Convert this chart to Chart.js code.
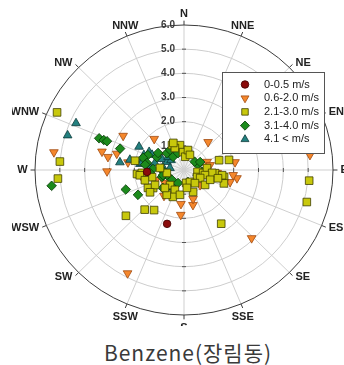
<!DOCTYPE html>
<html>
<head>
<meta charset="utf-8">
<script src="https://cdn.jsdelivr.net/npm/chart.js@4/dist/chart.umd.min.js"></script>
<style>
  html, body { margin: 0; padding: 0; background: #fff; }
  #wrap { position: relative; width: 344px; height: 365px; overflow: hidden; }
  #c { position: absolute; left: 0; top: 0; }
  #caption {
    position: absolute; left: 0; top: 337px; width: 376px; text-align: center;
    font-family: "Noto Sans CJK KR", "Noto Sans", sans-serif; font-size: 21px;
    letter-spacing: 1px; color: #3a3a3a;
  }
</style>
</head>
<body>
<div id="wrap">
  <canvas id="c" width="344" height="326"></canvas>
  <div id="caption">Benzene(장림동)</div>
</div>
<script>
// Benzene concentration by wind direction (degrees from north) and wind-speed class
const directionLabels = ['N','NNE','NE','ENE','E','ESE','SE','SSE','S','SSW','SW','WSW','W','WNW','NW','NNW'];
const radialTicks = [1, 2, 3, 4, 5, 6];
const rMax = 6;

const speedClasses = ['0-0.5 m/s', '0.6-2.0 m/s', '2.1-3.0 m/s', '3.1-4.0 m/s', '4.1 < m/s'];

const calmDir  = [197, 267];
const calmConc = [2.33, 1.49];

const lightDir  = [300, 317, 40, 83, 283, 280, 284, 278, 278, 269, 257, 184, 185, 166, 163, 136, 208, 99, 105, 95, 70, 83, 81, 79, 96, 217, 303, 134, 236, 250];
const lightConc = [2.83, 1.76, 1.51, 5.11, 3.39, 3.11, 2.79, 2.28, 5.29, 3.10, 1.69, 1.86, 1.41, 1.49, 1.25, 3.92, 4.84, 2.16, 1.92, 1.34, 0.99, 0.94, 2.08, 1.07, 1.99, 1.34, 1.15, 0.90, 0.95, 1.20];

const gentleDir  = [295, 274, 266, 231, 224, 216, 146, 105, 95, 74, 77, 100, 109, 239, 243, 265, 281, 158, 335, 351, 338, 357, 5, 266, 257, 260, 339, 11, 21, 98, 119, 99, 96, 98, 242, 236, 222, 204, 202, 189, 214, 171, 154, 85, 96, 104, 117, 141, 126, 111, 171, 275, 263, 255, 226, 104];
const gentleConc = [5.64, 5.01, 5.09, 3.01, 2.28, 2.05, 2.68, 5.12, 5.06, 1.47, 1.86, 1.64, 1.70, 1.45, 1.63, 1.90, 2.01, 0.98, 1.14, 1.04, 0.98, 0.74, 0.55, 1.70, 1.32, 0.70, 1.20, 0.84, 0.67, 0.55, 0.60, 0.78, 1.26, 1.55, 1.32, 1.65, 0.84, 0.90, 1.20, 1.04, 1.24, 0.54, 0.55, 0.93, 1.14, 0.87, 0.73, 0.70, 1.05, 1.13, 0.75, 0.97, 1.79, 1.63, 1.07, 1.41];

const moderateDir  = [291, 291, 291, 289, 263, 251, 241, 293, 287, 296, 281, 272, 270, 321, 341, 315, 265, 252, 326, 69, 96, 253, 230, 204, 223, 211, 162, 229, 51, 63, 304, 278, 256];
const moderateConc = [3.66, 3.46, 3.32, 2.72, 5.37, 2.48, 2.12, 1.58, 1.72, 1.22, 1.52, 1.25, 0.89, 0.70, 0.74, 0.98, 1.38, 0.93, 1.00, 0.60, 0.73, 0.72, 0.63, 0.59, 0.96, 0.86, 0.52, 1.13, 0.55, 0.73, 1.26, 1.58, 0.87];

const strongDir  = [294, 287, 277, 298, 278, 298, 291, 284, 297, 296, 308, 278, 296, 273, 278, 280, 281, 310, 103];
const strongConc = [4.76, 4.90, 2.60, 2.05, 1.79, 1.59, 1.73, 1.21, 1.00, 0.76, 0.66, 0.86, 1.43, 1.37, 0.57, 1.72, 2.22, 0.84, 0.54];

// polar (direction, concentration) -> cartesian data values
function toXY(dirs, concs) {
  return dirs.map((d, i) => {
    const a = d * Math.PI / 180;
    return { x: concs[i] * Math.sin(a), y: concs[i] * Math.cos(a) };
  });
}

const markerStyles = [
  { pointStyle: 'circle',   rotation: 0,   radius: 3.8, bg: '#8a0b0b', border: '#3d0000' },
  { pointStyle: 'triangle', rotation: 180, radius: 5.0, bg: '#f5872c', border: '#a04a10' },
  { pointStyle: 'rect',     rotation: 0,   radius: 5.4, bg: '#c8c80c', border: '#3f3f00' },
  { pointStyle: 'rectRot',  rotation: 0,   radius: 4.8, bg: '#1c8a1c', border: '#083808' },
  { pointStyle: 'triangle', rotation: 0,   radius: 5.0, bg: '#23807f', border: '#0b3a3a' }
];
const seriesData = [
  toXY(calmDir, calmConc),
  toXY(lightDir, lightConc),
  toXY(gentleDir, gentleConc),
  toXY(moderateDir, moderateConc),
  toXY(strongDir, strongConc)
];
// stacking order (lower = drawn on top)
const drawOrder = [0, 4, 1, 2, 3];

const datasets = seriesData.map((data, i) => ({
  label: speedClasses[i],
  data,
  order: drawOrder[i],
  pointStyle: markerStyles[i].pointStyle,
  rotation: markerStyles[i].rotation,
  pointRadius: markerStyles[i].radius,
  backgroundColor: markerStyles[i].bg,
  borderColor: markerStyles[i].border,
  borderWidth: 0.8,
  clip: false
}));

const polarGrid = {
  id: 'polarGrid',
  beforeDatasetsDraw(chart) {
    const { ctx, scales: { x, y } } = chart;
    const cx = x.getPixelForValue(0), cy = y.getPixelForValue(0);
    const pt = (r, deg) => {
      const a = deg * Math.PI / 180;
      return [x.getPixelForValue(r * Math.sin(a)), y.getPixelForValue(r * Math.cos(a))];
    };
    ctx.save();
    // fine spokes near the centre
    ctx.strokeStyle = '#d6d6d6';
    ctx.lineWidth = 0.6;
    for (let d = 0; d < 360; d += 10) {
      const [ex, ey] = pt(0.5, d);
      ctx.beginPath(); ctx.moveTo(cx, cy); ctx.lineTo(ex, ey); ctx.stroke();
    }
    // spokes for the 16 compass points
    ctx.strokeStyle = '#cfcfcf';
    ctx.lineWidth = 1;
    directionLabels.forEach((_, i) => {
      const [ex, ey] = pt(rMax, i * 22.5);
      ctx.beginPath(); ctx.moveTo(cx, cy); ctx.lineTo(ex, ey); ctx.stroke();
    });
    // rings
    radialTicks.forEach(r => {
      ctx.beginPath();
      ctx.ellipse(cx, cy, x.getPixelForValue(r) - cx, cy - y.getPixelForValue(r), 0, 0, Math.PI * 2);
      ctx.strokeStyle = r === rMax ? '#3c3c3c' : '#cdcdcd';
      ctx.lineWidth = 1;
      ctx.stroke();
    });
    // outer tick marks
    const tickEnd = rMax + 0.18;
    ctx.strokeStyle = '#3c3c3c';
    directionLabels.forEach((_, i) => {
      const [ax, ay] = pt(rMax, i * 22.5);
      const [bx, by] = pt(tickEnd, i * 22.5);
      ctx.beginPath(); ctx.moveTo(ax, ay); ctx.lineTo(bx, by); ctx.stroke();
    });
    // ticks across the cardinal axes
    ctx.strokeStyle = '#555';
    radialTicks.slice(0, -1).forEach(r => {
      [0, 90, 180, 270].forEach(d => {
        const [px, py] = pt(r, d);
        ctx.beginPath();
        if (d % 180 === 0) { ctx.moveTo(px - 2, py); ctx.lineTo(px + 2, py); }
        else { ctx.moveTo(px, py - 2); ctx.lineTo(px, py + 2); }
        ctx.stroke();
      });
    });
    // radial value labels along the north axis
    ctx.fillStyle = '#3a3a3a';
    ctx.font = 'bold 10px "Liberation Sans", Arial, sans-serif';
    ctx.textAlign = 'right';
    ctx.textBaseline = 'middle';
    radialTicks.forEach(r => {
      ctx.fillText(r.toFixed(1), cx - 9, y.getPixelForValue(r));
    });
    // compass labels, placed just beyond the outer tick marks (left margin trimmed)
    ctx.save();
    ctx.beginPath();
    ctx.rect(12, 0, chart.width - 12, chart.height);
    ctx.clip();
    ctx.fillStyle = '#222';
    ctx.font = 'bold 11px "Liberation Sans", Arial, sans-serif';
    directionLabels.forEach((lab, i) => {
      const deg = i * 22.5;
      const s = Math.sin(deg * Math.PI / 180), c = Math.cos(deg * Math.PI / 180);
      const [tx, ty] = pt(tickEnd, deg);
      if (Math.abs(s) < 0.5) {
        ctx.textAlign = 'center';
        if (c > 0) { ctx.textBaseline = 'bottom'; ctx.fillText(lab, tx, ty - 1); }
        else { ctx.textBaseline = 'top'; ctx.fillText(lab, tx, ty + 3.5); }
      } else {
        ctx.textAlign = s > 0 ? 'left' : 'right';
        ctx.textBaseline = 'middle';
        ctx.fillText(lab, tx + (s > 0 ? 3 : -3), ty - 2 * c);
      }
    });
    ctx.restore();
    ctx.restore();
  },
  afterDatasetsDraw(chart) {
    const { ctx } = chart;
    const bx = 222.5, by = 72.5, bw = 102, bh = 81;
    ctx.save();
    ctx.fillStyle = '#fff';
    ctx.fillRect(bx, by, bw, bh);
    ctx.strokeStyle = '#555';
    ctx.lineWidth = 1;
    ctx.strokeRect(bx, by, bw, bh);
    ctx.font = '11px "Liberation Sans", Arial, sans-serif';
    ctx.textAlign = 'left';
    ctx.textBaseline = 'middle';
    chart.data.datasets.forEach((ds, i) => {
      const yy = by + 12 + i * 13.7;
      ctx.fillStyle = ds.backgroundColor;
      ctx.strokeStyle = ds.borderColor;
      ctx.lineWidth = ds.borderWidth;
      Chart.helpers.drawPoint(ctx, {
        pointStyle: ds.pointStyle, rotation: ds.rotation,
        radius: Math.min(ds.pointRadius, 4.6), borderWidth: ds.borderWidth
      }, 245, yy);
      ctx.fillStyle = '#222';
      ctx.fillText(ds.label, 264, yy);
    });
    ctx.restore();
  }
};

new Chart(document.getElementById('c'), {
  type: 'scatter',
  data: { datasets },
  options: {
    responsive: false,
    animation: false,
    devicePixelRatio: 1,
    layout: { padding: { left: 35, right: 11, top: 25, bottom: 11 } },
    scales: {
      x: { type: 'linear', min: -rMax, max: rMax, display: false },
      y: { type: 'linear', min: -rMax, max: rMax, display: false }
    },
    plugins: { legend: { display: false }, tooltip: { enabled: false } }
  },
  plugins: [polarGrid]
});
</script>
</body>
</html>
